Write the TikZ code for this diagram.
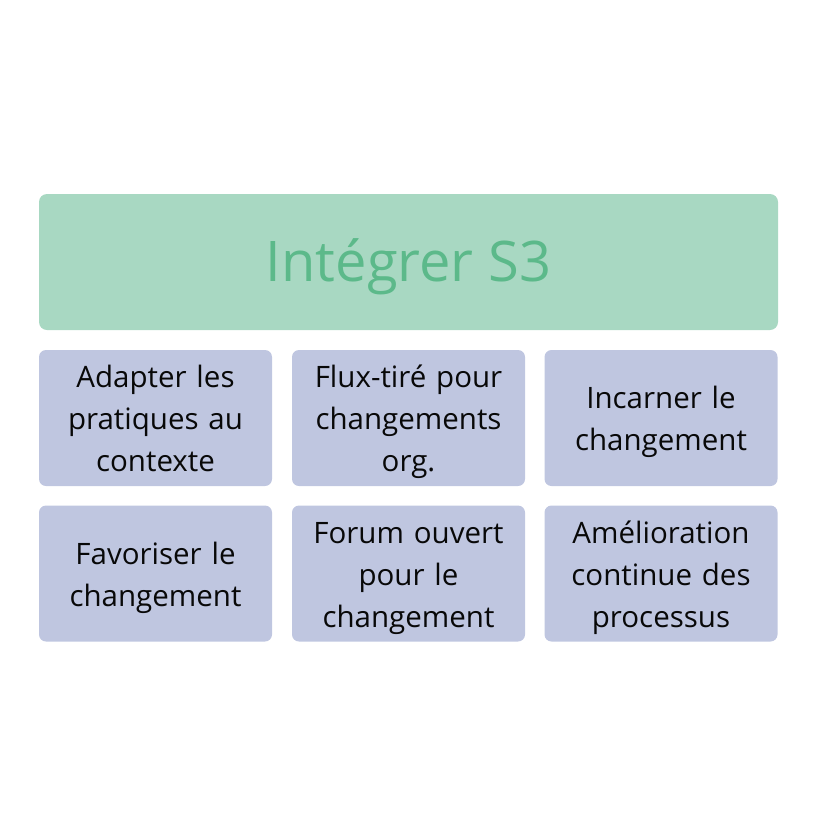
\documentclass[tikz,border=0pt]{standalone}
\usepackage{fontspec}
\setmainfont{Open Sans}
\definecolor{titlefill}{HTML}{A8D8C2}
\definecolor{titletext}{HTML}{5CB98A}
\definecolor{itemfill}{HTML}{BFC6E0}
\definecolor{itemtext}{HTML}{080808}
\newcommand{\itemtxt}[1]{\rule{0pt}{36.4pt}#1\rule[-12.6pt]{0pt}{0pt}}
\begin{document}
\begin{tikzpicture}[x=1pt,y=-1pt,
  titlebox/.style={fill=titlefill,draw=none,rounded corners=8pt,minimum width=739pt,minimum height=136pt,inner sep=0pt,
    font=\fontsize{56}{60}\selectfont,text=titletext},
  itembox/.style={fill=itemfill,draw=none,rounded corners=7pt,minimum width=233pt,minimum height=136pt,inner sep=0pt,
    align=center,text width=228pt,font=\fontsize{29.5}{42}\selectfont,text=itemtext}]
\useasboundingbox (0,0) rectangle (816,836);
\node[titlebox,text depth=17pt,text height=55pt] (title) at (408.5,262) {Intégrer S3};
\node[itembox] (a) at (155.5,418) {\itemtxt{Adapter les\\pratiques au\\contexte}};
\node[itembox] (b) at (408.5,418) {\itemtxt{Flux-tiré pour\\changements\\org.}};
\node[itembox] (c) at (661,418) {\itemtxt{Incarner le\\changement}};
\node[itembox] (d) at (155.5,573.5) {\itemtxt{Favoriser le\\changement}};
\node[itembox] (e) at (408.5,573.5) {\itemtxt{Forum ouvert\\pour le\\changement}};
\node[itembox] (f) at (661,573.5) {\itemtxt{Amélioration\\continue des\\processus}};
\end{tikzpicture}
\end{document}
